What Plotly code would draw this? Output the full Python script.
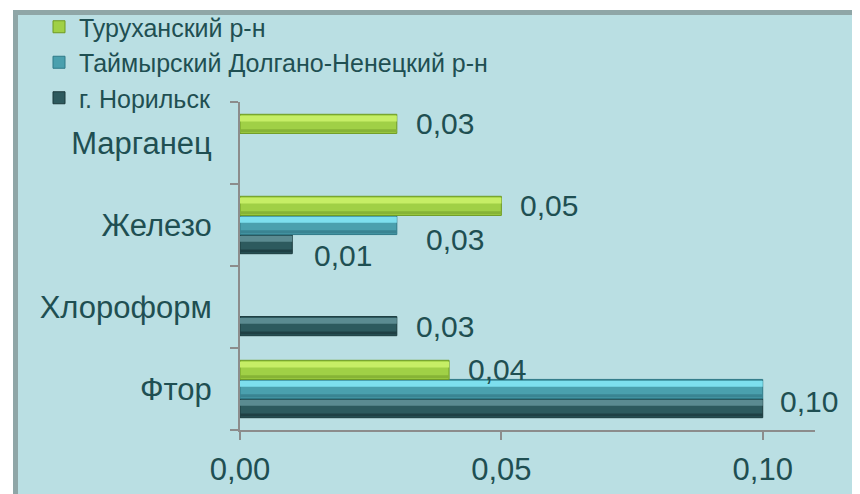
import plotly.graph_objects as go

# ---- data ----
categories = ["Фтор", "Хлороформ", "Железо", "Марганец"]  # bottom -> top
series_names = ["г. Норильск", "Таймырский Долгано-Ненецкий р-н", "Туруханский р-н"]
norilsk = [0.10, 0.03, 0.01, None]
taimyr = [0.10, None, 0.03, None]
turukhansk = [0.04, None, 0.05, 0.03]
x_ticks = [0.00, 0.05, 0.10]

series_values = [norilsk, taimyr, turukhansk]

# ---- style ----
FONT = "Liberation Sans, Arial, sans-serif"
TXT = "#1f4f52"
mids = ["#2d5a5e", "#4aa0ae", "#a0d046"]
lights = ["#5b8b91", "#7ddfee", "#c6ee66"]
darks = ["#1f4044", "#3a8492", "#86b336"]
edges = ["#1b3a3d", "#2f7a88", "#6f9a22"]
PANEL = "#badfe3"
BORDER = "#8fa6a7"
GROUP = 0.7
# label nudges (series index, category) -> (xshift, yshift, show)
nudges = {
    (1, "Фтор"): (0, 0, False),
    (0, "Фтор"): (15, 7, True),
    (1, "Железо"): (27, -14, True),
    (0, "Железо"): (20, -11, True),
}

nser = len(series_values)
bw = GROUP / nser

fig = go.Figure()
for si, (name, vals) in enumerate(zip(series_names, series_values)):
    off = -GROUP / 2 + si * bw
    fig.add_trace(go.Bar(
        name=name, y=categories, x=vals, orientation="h",
        offset=off, width=bw,
        marker=dict(color=mids[si], line=dict(color=edges[si], width=1)),
        legendrank=nser - si,
    ))
    # bevel: light top band and dark bottom band
    fig.add_trace(go.Bar(
        y=categories, x=vals, orientation="h", showlegend=False, hoverinfo="skip",
        offset=off + bw * 0.62, width=bw * 0.3,
        marker=dict(color=lights[si], line=dict(width=0)),
    ))
    fig.add_trace(go.Bar(
        y=categories, x=vals, orientation="h", showlegend=False, hoverinfo="skip",
        offset=off + bw * 0.06, width=bw * 0.16,
        marker=dict(color=darks[si], line=dict(width=0)),
    ))

# data labels
annotations = []
for si, vals in enumerate(series_values):
    for ci, (cat, v) in enumerate(zip(categories, vals)):
        if v is None:
            continue
        xs, ys, show = nudges.get((si, cat), (17, 0, True))
        if not show:
            continue
        annotations.append(dict(
            x=v, y=ci - GROUP / 2 + (si + 0.5) * bw, xref="x", yref="y",
            text=f"{v:.2f}".replace(".", ","), showarrow=False,
            xanchor="left", yanchor="middle", xshift=xs, yshift=ys,
            font=dict(family=FONT, size=30, color=TXT),
        ))

# page is offset by the 8px body margin; work in page coordinates
OFF = 8
W, H = 860 - OFF, 494 - OFF
L, R, T, B = 240 - OFF, 45, 102 - OFF, 64
pw, ph = W - L - R, H - T - B

def px(xp):
    return (xp - OFF - L) / pw

def py(yp):
    return (H - B - (yp - OFF)) / ph

shapes = [
    dict(type="rect", xref="paper", yref="paper", x0=px(13), x1=px(880), y0=py(520), y1=py(14),
         fillcolor=PANEL, line=dict(width=0), layer="below"),
    dict(type="rect", xref="paper", yref="paper", x0=px(13), x1=px(880), y0=py(15), y1=py(10),
         fillcolor=BORDER, line=dict(width=0), layer="below"),
    dict(type="rect", xref="paper", yref="paper", x0=px(13), x1=px(18), y0=py(520), y1=py(10),
         fillcolor=BORDER, line=dict(width=0), layer="below"),
]

fig.update_layout(
    width=W, height=H,
    margin=dict(l=L, r=R, t=T, b=B, autoexpand=False),
    paper_bgcolor="white", plot_bgcolor="rgba(0,0,0,0)",
    barmode="overlay",
    separators=", ",
    font=dict(family=FONT, color=TXT),
    showlegend=True,
    legend=dict(x=px(39), y=py(4), xanchor="left", yanchor="top",
                bgcolor="rgba(0,0,0,0)",
                font=dict(size=25, color=TXT), itemwidth=30,
                tracegroupgap=0),
    shapes=shapes, annotations=annotations,
    xaxis=dict(range=[0, 0.11], tickvals=x_ticks, tickformat=".2f",
               showgrid=False, zeroline=False, showline=True, linecolor="#8c8c8c", linewidth=2,
               ticks="outside", ticklen=8, tickcolor="#8c8c8c", tickwidth=2,
               tickfont=dict(size=31, color=TXT), ticklabelstandoff=3),
    yaxis=dict(categoryorder="array", categoryarray=categories, range=[-0.5, 3.5],
               showgrid=False, zeroline=False, showline=True, linecolor="#8c8c8c", linewidth=2,
               ticks="outside", ticklen=8, tickcolor="#8c8c8c", tickwidth=2, tickson="boundaries",
               tickfont=dict(size=31, color=TXT), ticklabelstandoff=20),
)

fig.write_html("out.html")
